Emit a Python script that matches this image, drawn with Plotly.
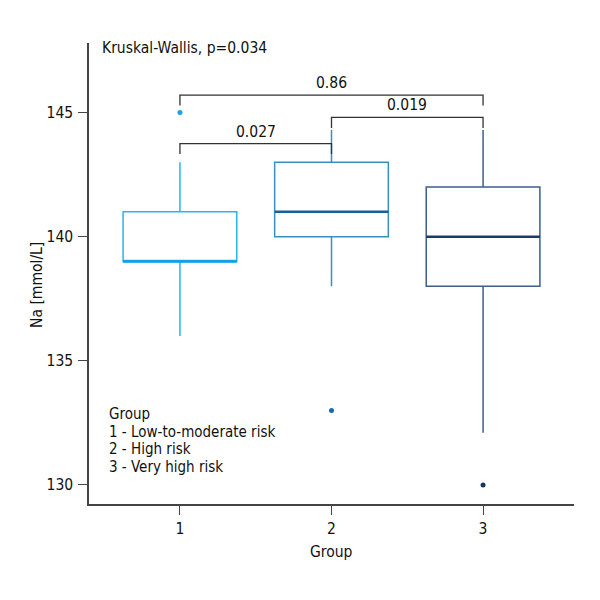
import plotly.graph_objects as go

groups = [1, 2, 3]
q1 = [139, 140, 138]
median = [139, 141, 140]
q3 = [141, 143, 142]
lower_whisker = [136, 138, 132.1]
upper_whisker = [143, 144.3, 144.3]
outlier_x = [1, 2, 3]
outlier_y = [145, 133, 130]

box_colors = ["#2db4ec", "#3b8ec4", "#3e5f8b"]
median_colors = ["#0a9fe6", "#1b5f9c", "#1d3b68"]
point_colors = ["#1aa3e8", "#1a6aa8", "#1b3560"]

comparisons = [(1, 2, "0.027", 143.75), (2, 3, "0.019", 144.8), (1, 3, "0.86", 145.7)]
kw_text = "Kruskal-Wallis, p=0.034"
legend_lines = ["Group", "1 - Low-to-moderate risk", "2 - High risk", "3 - Very high risk"]

FONT = "DejaVu Sans Condensed, Liberation Sans Narrow, Roboto, sans-serif"
FS = 15.5
BOXW = 0.75
TXT = "#111111"

fig = go.Figure()
for i, g in enumerate(groups):
    fig.add_trace(go.Box(
        x=[g], q1=[q1[i]], median=[median[i]], q3=[q3[i]],
        lowerfence=[lower_whisker[i]], upperfence=[upper_whisker[i]],
        width=BOXW, fillcolor="white", boxpoints=False, whiskerwidth=0,
        line=dict(color=box_colors[i], width=1.5), showlegend=False,
        hoverinfo="skip"))
    fig.add_trace(go.Scatter(
        x=[g - BOXW / 2, g + BOXW / 2], y=[median[i], median[i]], mode="lines",
        line=dict(color=median_colors[i], width=2.5), showlegend=False, hoverinfo="skip"))
    fig.add_trace(go.Scatter(
        x=[outlier_x[i]], y=[outlier_y[i]], mode="markers",
        marker=dict(color=point_colors[i], size=5), showlegend=False))

for a, b, lab, yb in comparisons:
    fig.add_trace(go.Scatter(
        x=[a, a, b, b], y=[yb - 0.42, yb, yb, yb - 0.42], mode="lines",
        line=dict(color="#333333", width=1.3), showlegend=False, hoverinfo="skip"))
    fig.add_annotation(x=(a + b) / 2, y=yb, text=lab, showarrow=False,
                       yanchor="bottom", yshift=1, font=dict(family=FONT, size=FS, color=TXT))

fig.add_annotation(x=0.473, y=147.58, xref="x", yref="y", text=kw_text, showarrow=False,
                   xanchor="left", yanchor="middle", font=dict(family=FONT, size=FS, color=TXT))
for k, line in enumerate(legend_lines):
    fig.add_annotation(x=0.525, y=132.85, xref="x", yref="y", text=line, yshift=-17.5 * k,
                       showarrow=False, xanchor="left", yanchor="middle", align="left",
                       borderpad=0, font=dict(family=FONT, size=15, color=TXT))

# axis titles
fig.add_annotation(x=0, y=0.475, xref="paper", yref="paper", xshift=-52, text="Na [mmol/L]",
                   textangle=-90, showarrow=False, xanchor="center", yanchor="middle",
                   font=dict(family=FONT, size=FS, color=TXT))
fig.add_annotation(x=0.5, y=0, xref="paper", yref="paper", yshift=-48, text="Group",
                   showarrow=False, xanchor="center", yanchor="middle",
                   font=dict(family=FONT, size=FS, color=TXT))

fig.update_layout(
    width=592, height=592, margin=dict(l=81, r=26, t=35, b=96),
    plot_bgcolor="white", paper_bgcolor="white",
    font=dict(family=FONT, size=FS, color=TXT),
    xaxis=dict(range=[0.4, 3.6], tickvals=groups, ticktext=[str(g) for g in groups],
               showgrid=False, zeroline=False, showline=True, linecolor="#444", linewidth=1.5,
               ticks="outside", ticklen=9, tickcolor="#444", tickwidth=1.3, automargin=False,
               ticklabelstandoff=1, tickfont=dict(size=FS)),
    yaxis=dict(range=[129.23, 147.8], tickvals=[130, 135, 140, 145],
               showgrid=False, zeroline=False, showline=True, linecolor="#444", linewidth=1.5,
               ticks="outside", ticklen=9, tickcolor="#444", tickwidth=1.3, automargin=False,
               ticklabelstandoff=2, tickfont=dict(size=FS)),
)

fig.write_html("out.html")
